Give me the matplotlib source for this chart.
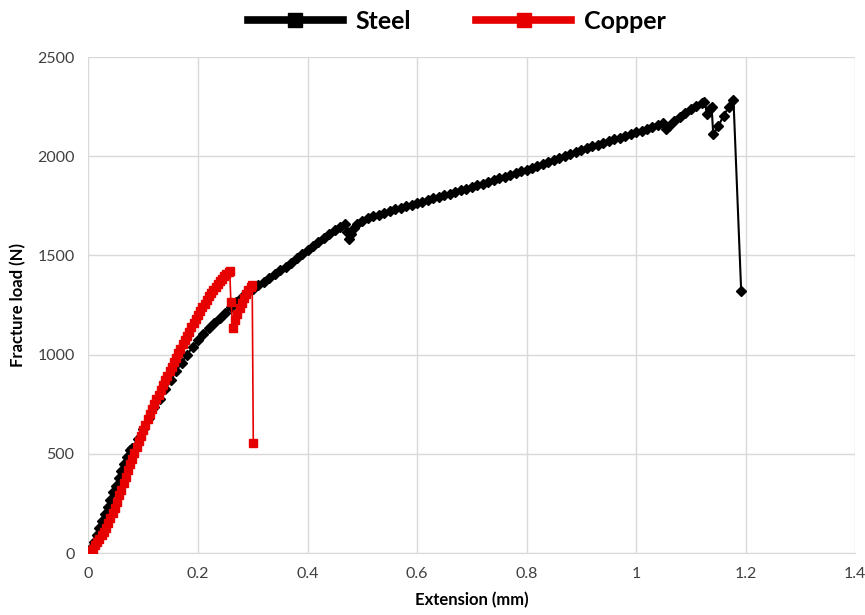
import matplotlib
matplotlib.use("Agg")
import matplotlib.pyplot as plt
from matplotlib.lines import Line2D

# readings taken off the load-extension chart
steel_ext = [
    0.000, 0.005, 0.010, 0.015, 0.020, 0.025, 0.030, 0.035, 0.040, 0.045,
    0.050, 0.055, 0.060, 0.065, 0.070, 0.075, 0.080, 0.090, 0.100, 0.110,
    0.120, 0.130, 0.140, 0.150, 0.160, 0.170, 0.180, 0.190, 0.200, 0.210,
    0.220, 0.230, 0.240, 0.250, 0.260, 0.270, 0.280, 0.290, 0.300, 0.310,
    0.320, 0.330, 0.340, 0.350, 0.360, 0.370, 0.380, 0.390, 0.400, 0.410,
    0.420, 0.430, 0.440, 0.450, 0.460, 0.468, 0.472, 0.476, 0.480, 0.485,
    0.490, 0.500, 0.510, 0.520, 0.530, 0.540, 0.550, 0.560, 0.570, 0.580,
    0.590, 0.600, 0.610, 0.620, 0.630, 0.640, 0.650, 0.660, 0.670, 0.680,
    0.690, 0.700, 0.710, 0.720, 0.730, 0.740, 0.750, 0.760, 0.770, 0.780,
    0.790, 0.800, 0.810, 0.820, 0.830, 0.840, 0.850, 0.860, 0.870, 0.880,
    0.890, 0.900, 0.910, 0.920, 0.930, 0.940, 0.950, 0.960, 0.970, 0.980,
    0.990, 1.000, 1.010, 1.020, 1.030, 1.040, 1.050, 1.055, 1.060, 1.070,
    1.080, 1.090, 1.100, 1.110, 1.120, 1.125, 1.130, 1.135, 1.138, 1.141,
    1.150, 1.160, 1.170, 1.178, 1.192,
]
steel_load = [
    0, 25, 55, 90, 125, 160, 195, 232, 268, 305,
    340, 378, 415, 450, 485, 520, 530, 575, 625, 680,
    735, 778, 825, 872, 915, 960, 1000, 1037, 1072, 1104,
    1133, 1160, 1185, 1212, 1240, 1265, 1288, 1310, 1330, 1350,
    1368, 1386, 1405, 1424, 1443, 1462, 1485, 1505, 1527, 1548,
    1570, 1590, 1610, 1628, 1645, 1658, 1620, 1585, 1610, 1640,
    1660, 1675, 1688, 1697, 1706, 1715, 1725, 1733, 1741, 1749,
    1756, 1763, 1771, 1779, 1787, 1795, 1803, 1811, 1819, 1828,
    1836, 1845, 1853, 1862, 1870, 1879, 1888, 1897, 1906, 1915,
    1924, 1933, 1942, 1952, 1961, 1971, 1980, 1990, 2000, 2010,
    2020, 2030, 2040, 2049, 2058, 2067, 2076, 2085, 2094, 2103,
    2112, 2120, 2129, 2138, 2147, 2156, 2168, 2135, 2150, 2178,
    2200, 2220, 2238, 2255, 2268, 2275, 2215, 2240, 2250, 2110,
    2150, 2205, 2250, 2282, 1322,
]

copper_ext = [
    0.000, 0.004, 0.008, 0.012, 0.016, 0.020, 0.024, 0.028, 0.032, 0.036,
    0.040, 0.044, 0.048, 0.052, 0.056, 0.060, 0.064, 0.068, 0.072, 0.076,
    0.080, 0.084, 0.088, 0.092, 0.096, 0.100, 0.104, 0.108, 0.112, 0.116,
    0.120, 0.124, 0.128, 0.132, 0.136, 0.140, 0.144, 0.148, 0.152, 0.156,
    0.160, 0.164, 0.168, 0.172, 0.176, 0.180, 0.184, 0.188, 0.192, 0.196,
    0.200, 0.204, 0.208, 0.212, 0.216, 0.220, 0.224, 0.228, 0.232, 0.236,
    0.240, 0.244, 0.248, 0.252, 0.256, 0.258, 0.260, 0.264, 0.268, 0.272,
    0.276, 0.280, 0.284, 0.288, 0.292, 0.296, 0.299, 0.301,
]
copper_load = [
    0, 8, 20, 38, 55, 72, 90, 108, 128, 150,
    175, 200, 228, 258, 290, 320, 352, 385, 418, 448,
    475, 505, 535, 563, 592, 620, 647, 673, 699, 724,
    750, 774, 798, 822, 846, 870, 893, 916, 939, 962,
    985, 1007, 1029, 1051, 1073, 1095, 1116, 1137, 1158, 1179,
    1200, 1219, 1238, 1257, 1276, 1294, 1311, 1327, 1342, 1357,
    1370, 1383, 1395, 1406, 1415, 1420, 1267, 1134, 1175, 1205,
    1235, 1260, 1285, 1305, 1325, 1342, 1350, 556,
]

x_ticks = [0, 0.2, 0.4, 0.6, 0.8, 1, 1.2, 1.4]
x_tick_labels = ["0", "0.2", "0.4", "0.6", "0.8", "1", "1.2", "1.4"]
y_ticks = [0, 500, 1000, 1500, 2000, 2500]

STEEL_COLOR = "#000000"
COPPER_COLOR = "#e60000"
GRID_COLOR = "#d9d9d9"
TEXT_COLOR = "#404040"

plt.rcParams["font.family"] = ["Lato", "DejaVu Sans"]

fig = plt.figure(figsize=(8.65, 6.15), dpi=100)
ax = fig.add_axes([0.1023, 0.1008, 0.8862, 0.8065])

ax.plot(steel_ext, steel_load, color=STEEL_COLOR, lw=1.5, marker="D",
        markersize=5.5, zorder=3)
ax.plot(copper_ext, copper_load, color=COPPER_COLOR, lw=1.2, marker="s",
        markersize=6, zorder=4)

ax.set_xlim(0, 1.4)
ax.set_ylim(0, 2500)
ax.set_xticks(x_ticks)
ax.set_xticklabels(x_tick_labels)
ax.set_yticks(y_ticks)
ax.grid(True, color=GRID_COLOR, lw=1)
ax.set_axisbelow(True)
for side in ["top", "right", "left"]:
    ax.spines[side].set_visible(False)
ax.spines["bottom"].set_color(GRID_COLOR)
ax.tick_params(length=0, labelsize=11.5, colors=TEXT_COLOR, pad=10)

ax.set_xlabel("Extension (mm)", fontsize=12, fontweight="bold", labelpad=8)
ax.set_ylabel("Fracture load (N)", fontsize=12, fontweight="bold", labelpad=8)

handles = [
    Line2D([], [], color=STEEL_COLOR, lw=5.5, marker="s", markersize=10),
    Line2D([], [], color=COPPER_COLOR, lw=5.5, marker="s", markersize=10),
]
fig.legend(handles, ["Steel", "Copper"], loc="upper center",
           bbox_to_anchor=(0.528, 1.02), ncol=2, frameon=False,
           prop={"size": 18, "weight": "bold"}, handlelength=3.8,
           handletextpad=0.5, columnspacing=2.6)

fig.savefig("out.png", dpi=100)
